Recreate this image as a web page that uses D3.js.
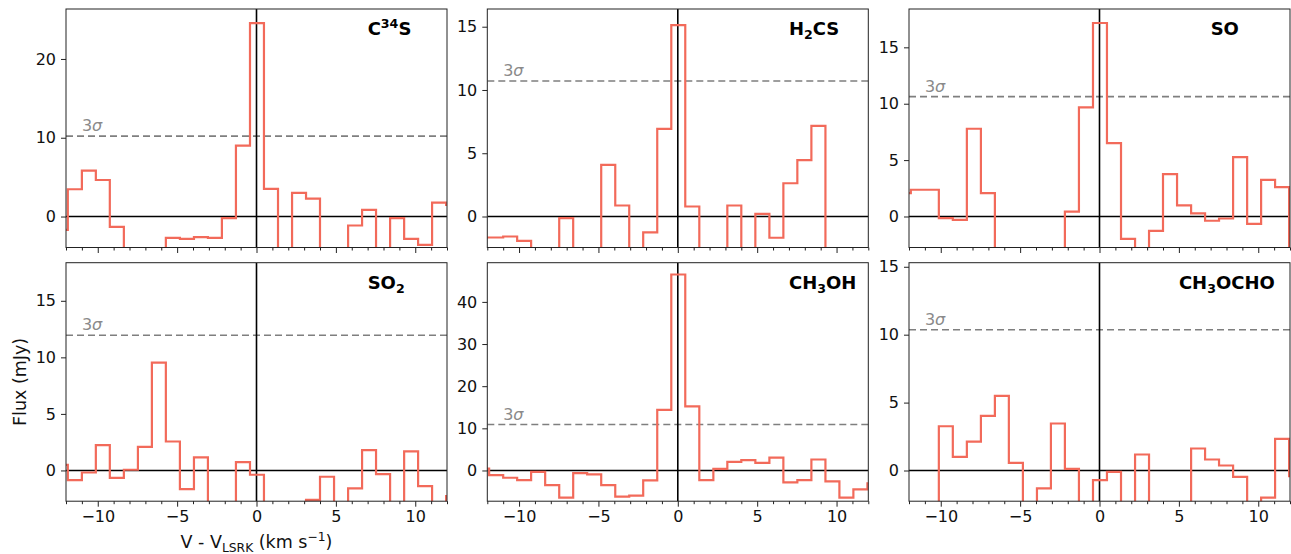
<!DOCTYPE html>
<html>
<head>
<meta charset="utf-8">
<script src="https://cdn.jsdelivr.net/npm/d3@7/dist/d3.min.js"></script>
<style>
  html, body { margin: 0; padding: 0; background: #fff; }
  svg { display: block; font-family: "DejaVu Sans", sans-serif; }
</style>
</head>
<body>
<svg id="chart" width="1291" height="554"></svg>
<script>
// ---------- data ----------
const velocity = [-12.33, -11.44, -10.56, -9.68, -8.80, -7.91, -7.03, -6.15, -5.27, -4.38,
  -3.50, -2.62, -1.74, -0.85, 0.03, 0.91, 1.80, 2.68, 3.56, 4.44,
  5.33, 6.21, 7.09, 7.97, 8.86, 9.74, 10.62, 11.50, 12.39];

const fluxC34S = [-1.7, 3.46, 5.82, 4.64, -1.31, -5.2, -6.0, -4.8, -2.70, -2.83,
  -2.62, -2.70, -0.21, 8.99, 24.56, 3.50, -5.5, 3.0, 2.28, -4.6,
  -5.8, -1.14, 0.84, -4.9, -0.21, -2.83, -3.59, 1.77, 1.48];
const fluxH2CS = [-1.66, -1.66, -1.58, -1.92, -3.5, -4.2, -0.13, -3.1, -4.0, 4.08,
  0.87, -3.4, -1.26, 6.92, 15.13, 0.79, -3.6, -2.9, 0.87, -3.2,
  0.21, -1.68, 2.63, 4.45, 7.16, -3.8, -4.5, -3.3, -3.9];
const fluxSO = [2.07, 2.37, 2.37, -0.15, -0.30, 7.78, 2.07, -4.1, -3.6, -5.0,
  -3.3, -4.4, 0.44, 9.67, 17.16, 6.51, -1.98, -3.5, -1.27, 3.76,
  0.98, 0.27, -0.38, -0.18, 5.27, -0.65, 3.25, 2.60, -3.5];
const fluxSO2 = [0.5, -0.85, -0.18, 2.24, -0.65, 0.06, 2.09, 9.53, 2.56, -1.65,
  1.15, -3.6, -3.2, 0.74, -0.38, -3.9, -4.4, -3.3, -2.6, -0.56,
  -3.0, -1.59, 1.79, -0.32, -3.4, 1.68, -1.38, -3.1, -2.26];
const fluxCH3OH = [0.47, -1.10, -1.73, -2.28, -0.31, -3.46, -6.46, -0.63, -0.94, -3.46,
  -6.22, -5.98, -2.36, 14.4, 46.5, 15.2, -2.28, 0.39, 2.05, 2.44,
  1.81, 3.07, -2.83, -2.28, 2.60, -2.60, -6.46, -4.49, -3.07];
const fluxCH3OCHO = [-3.0, -3.5, -2.8, 3.26, 1.00, 2.13, 4.02, 5.49, 0.56, -3.2,
  -1.32, 3.46, 0.12, -2.9, -0.71, -0.10, -3.3, 1.18, -2.7, -3.6,
  -2.9, 1.62, 0.81, 0.37, -0.47, -3.0, -1.99, 2.33, -0.42];

const sigma3 = [10.21, 10.71, 10.63, 11.95, 10.9, 10.36];

const molecules = [
  [["C", ""], ["34", "sup"], ["S", ""]],
  [["H", ""], ["2", "sub"], ["CS", ""]],
  [["SO", ""]],
  [["SO", ""], ["2", "sub"]],
  [["CH", ""], ["3", "sub"], ["OH", ""]],
  [["CH", ""], ["3", "sub"], ["OCHO", ""]]
];

const yLimits = [[-3.93, 26.34], [-2.45, 16.4], [-2.75, 18.4], [-2.72, 18.37], [-7.29, 49.3], [-2.26, 15.3]];
const yTickValues = [[0, 10, 20], [0, 5, 10, 15], [0, 5, 10, 15], [0, 5, 10, 15], [0, 10, 20, 30, 40], [0, 5, 10, 15]];
const xTickValues = [-10, -5, 0, 5, 10];
const xMinorTicks = [-12, -11, -9, -8, -7, -6, -4, -3, -2, -1, 1, 2, 3, 4, 6, 7, 8, 9, 11, 12];
const labelX = [7, 7, 7, 7, 7, 5];

const series = [fluxC34S, fluxH2CS, fluxSO, fluxSO2, fluxCH3OH, fluxCH3OCHO];

// ---------- layout ----------
const colX = [66, 487.3, 909];
const rowY = [9, 262.7];
const pw = 381, ph = 238.5;
const lineColor = "#f26a5a";

const svg = d3.select("#chart");
const fmt = d => (d < 0 ? "\u2212" + Math.abs(d) : String(d));

series.forEach((vals, i) => {
  const col = i % 3, row = Math.floor(i / 3);
  const x0 = colX[col], y0 = rowY[row];
  const g = svg.append("g").attr("transform", `translate(${x0},${y0})`);

  const x = d3.scaleLinear().domain([-12, 12]).range([0, pw]);
  const y = d3.scaleLinear().domain(yLimits[i]).range([ph, 0]);

  const clipId = "clip" + i;
  g.append("clipPath").attr("id", clipId)
    .append("rect").attr("width", pw).attr("height", ph);

  const plot = g.append("g").attr("clip-path", `url(#${clipId})`);

  // 3 sigma dashed line
  plot.append("line")
    .attr("x1", 0).attr("x2", pw)
    .attr("y1", y(sigma3[i])).attr("y2", y(sigma3[i]))
    .attr("stroke", "#7f7f7f").attr("stroke-width", 1.6)
    .attr("stroke-dasharray", "7,4");

  // zero lines
  plot.append("line")
    .attr("x1", 0).attr("x2", pw).attr("y1", y(0)).attr("y2", y(0))
    .attr("stroke", "#000").attr("stroke-width", 1.6);
  plot.append("line")
    .attr("x1", x(0)).attr("x2", x(0)).attr("y1", 0).attr("y2", ph)
    .attr("stroke", "#000").attr("stroke-width", 1.6);

  // step spectrum
  const line = d3.line()
    .x((d, j) => x(velocity[j]))
    .y(d => y(d))
    .curve(d3.curveStep);
  plot.append("path")
    .datum(vals)
    .attr("d", line)
    .attr("fill", "none")
    .attr("stroke", lineColor)
    .attr("stroke-width", 2.2)
    .attr("stroke-linejoin", "miter");

  // 3 sigma label
  g.append("text")
    .attr("x", x(-11)).attr("y", y(sigma3[i]) - 5)
    .attr("fill", "#8a8a8a")
    .attr("font-size", 16)
    .html('<tspan>3</tspan><tspan font-style="italic">\u03c3</tspan>');

  // molecule label
  const t = g.append("text")
    .attr("x", x(labelX[i])).attr("y", 26)
    .attr("font-size", 18).attr("font-weight", "bold").attr("fill", "#000");
  let shift = 0;
  molecules[i].forEach(([s, kind]) => {
    const ts = t.append("tspan").text(s);
    let target = 0;
    if (kind === "sup") { ts.attr("font-size", 12.6); target = -7; }
    else if (kind === "sub") { ts.attr("font-size", 12.6); target = 4; }
    ts.attr("dy", target - shift);
    shift = target;
  });

  // frame
  g.append("rect").attr("width", pw).attr("height", ph)
    .attr("fill", "none").attr("stroke", "#222").attr("stroke-width", 1);

  // x axis
  const xAxis = d3.axisBottom(x).tickValues(xTickValues).tickSize(5.5).tickPadding(4)
    .tickFormat(row === 1 ? fmt : "");
  const xa = g.append("g").attr("transform", `translate(0,${ph})`).call(xAxis);
  const xm = d3.axisBottom(x).tickValues(xMinorTicks).tickSize(3).tickFormat("");
  const xb = g.append("g").attr("transform", `translate(0,${ph})`).call(xm);
  [xa, xb].forEach(a => {
    a.select(".domain").remove();
    a.selectAll("line").attr("stroke", "#222").attr("stroke-width", 1);
    a.selectAll("text").attr("font-size", 16).attr("fill", "#111")
      .attr("font-family", "DejaVu Sans, sans-serif");
  });

  // y axis
  const yAxis = d3.axisLeft(y).tickValues(yTickValues[i]).tickSize(5).tickPadding(5).tickFormat(fmt);
  const ya = g.append("g").call(yAxis);
  ya.select(".domain").remove();
  ya.selectAll("line").attr("stroke", "#222").attr("stroke-width", 1);
  ya.selectAll("text").attr("font-size", 16).attr("fill", "#111")
    .attr("font-family", "DejaVu Sans, sans-serif");

  if (i === 3) {
    // y label
    g.append("text")
      .attr("transform", `translate(${20 - x0},${ph / 2}) rotate(-90)`)
      .attr("text-anchor", "middle").attr("dy", "0.35em")
      .attr("font-size", 17.5).attr("fill", "#111")
      .text("Flux (mJy)");
    // x label
    const xl = g.append("text")
      .attr("x", pw / 2).attr("y", 548 - y0)
      .attr("text-anchor", "middle")
      .attr("font-size", 17.5).attr("fill", "#111");
    xl.append("tspan").text("V - V");
    xl.append("tspan").text("LSRK").attr("font-size", 12.3).attr("dy", 4);
    xl.append("tspan").text(" (km s").attr("dy", -4);
    xl.append("tspan").text("\u22121").attr("font-size", 12.3).attr("dy", -7);
    xl.append("tspan").text(")").attr("dy", 7);
  }
});
</script>
</body>
</html>
